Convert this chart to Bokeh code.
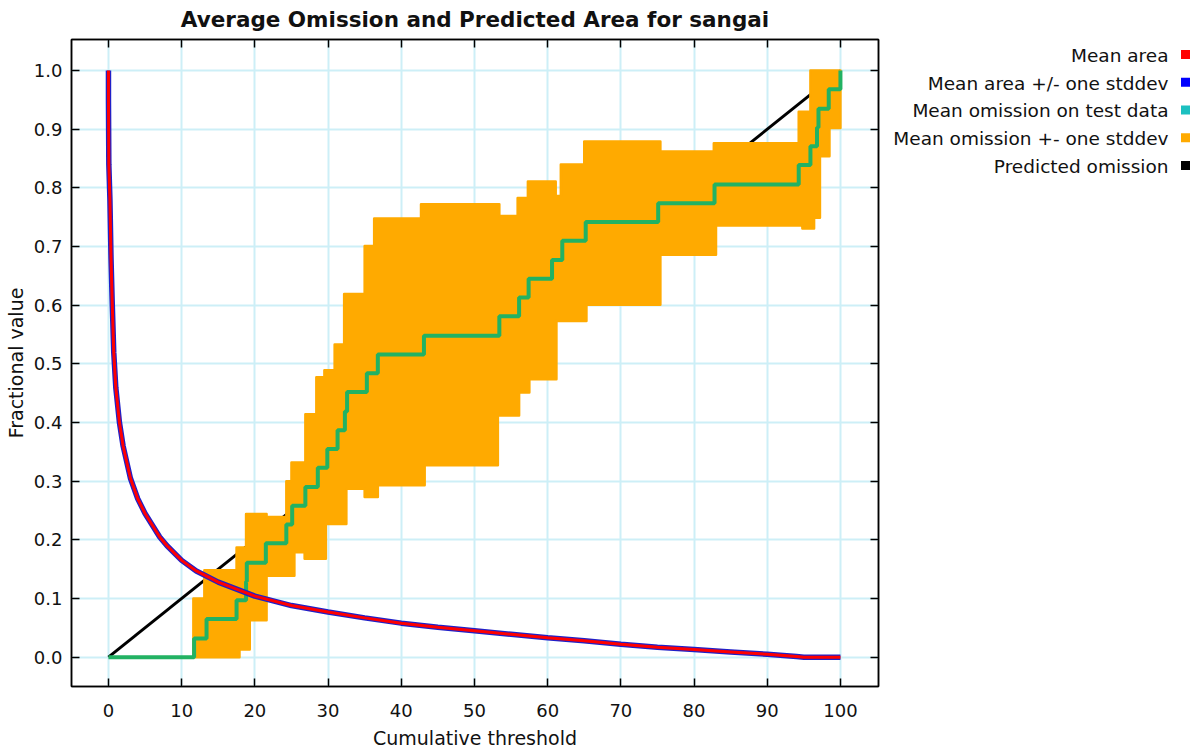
from bokeh.plotting import figure
from bokeh.layouts import row
from bokeh.models import (Range1d, LinearAxis, FixedTicker, PrintfTickFormatter, Title,
                          CustomLabelingPolicy)
from bokeh.embed import file_html
from bokeh.resources import INLINE
from bokeh.core.properties import value

# ---------------- data ----------------
title_text = "Average Omission and Predicted Area for sangai"
x_label = "Cumulative threshold"
y_label = "Fractional value"
x_ticks = [0, 10, 20, 30, 40, 50, 60, 70, 80, 90, 100]
y_ticks = [0.0, 0.1, 0.2, 0.3, 0.4, 0.5, 0.6, 0.7, 0.8, 0.9, 1.0]

# Mean area (fraction of area predicted present)
area_x = [0, 0.0, 0.05, 0.2, 0.35, 0.5, 0.72, 1.0, 1.5, 2, 3, 4, 5, 6, 7, 8, 10, 12, 15,
          20, 25, 30, 35, 40, 45, 50, 55, 60, 65, 70, 75, 80, 85, 90, 94, 95, 100]
area_y = [1.0, 0.95, 0.84, 0.78, 0.68, 0.61, 0.52, 0.46, 0.40, 0.36, 0.305, 0.27, 0.245,
          0.225, 0.205, 0.19, 0.165, 0.147, 0.128, 0.104, 0.088, 0.077, 0.067, 0.058,
          0.051, 0.045, 0.039, 0.033, 0.028, 0.022, 0.017, 0.013, 0.009, 0.005, 0.001, 0.0, 0.0]

# Mean omission on test data (step function)
om_x = [0, 11.7, 13.4, 17.5, 18.8, 18.9, 21.5, 24.3, 25.1, 26.9, 28.6, 29.9, 31.3, 32.3,
        32.6, 35.3, 36.8, 43.1, 53.4, 56.1, 57.4, 60.6, 62.0, 65.2, 75.1, 82.8, 94.3,
        95.9, 96.8, 97.0, 98.4, 100]
om_y = [0, 0.032, 0.065, 0.097, 0.129, 0.161, 0.194, 0.226, 0.258, 0.290, 0.323, 0.355,
        0.387, 0.419, 0.452, 0.484, 0.516, 0.548, 0.581, 0.613, 0.645, 0.677, 0.710,
        0.742, 0.774, 0.806, 0.839, 0.871, 0.903, 0.935, 0.968, 1.0]

# Mean omission +- one stddev (upper and lower step envelopes)
band_up_x = [11.6, 13.1, 17.5, 18.8, 21.6, 24.3, 25.0, 26.9, 28.4, 29.5, 30.9, 32.2, 35.0,
             36.3, 42.7, 53.4, 55.9, 57.3, 61.1, 61.8, 65.0, 75.4, 82.7, 94.3, 95.9, 100]
band_up_y = [0.100, 0.148, 0.187, 0.244, 0.239, 0.300, 0.332, 0.414, 0.477, 0.489, 0.533,
             0.619, 0.701, 0.748, 0.772, 0.752, 0.783, 0.811, 0.786, 0.840, 0.879, 0.862,
             0.876, 0.930, 1.000, 1.000]
band_lo_x = [11.6, 17.9, 19.3, 21.6, 25.4, 26.8, 29.7, 32.5, 35.0, 36.8, 43.2, 53.2, 56.1,
             57.5, 61.2, 65.3, 75.4, 83.0, 94.8, 96.4, 97.2, 98.5, 100]
band_lo_y = [0.000, 0.013, 0.063, 0.139, 0.179, 0.168, 0.227, 0.287, 0.273, 0.293, 0.327,
             0.412, 0.451, 0.474, 0.573, 0.601, 0.686, 0.736, 0.731, 0.749, 0.854, 0.902,
             0.902]

# Predicted omission
pred_x = [0, 100]
pred_y = [0, 1]

legend_labels = ["Mean area", "Mean area +/- one stddev", "Mean omission on test data",
                 "Mean omission +- one stddev", "Predicted omission"]
legend_colors = ["#FF0000", "#0000FF", "#1CC0C0", "#FFAA00", "#000000"]

# ---------------- styling ----------------
FONT = "DejaVu Sans"
RED = "#FF0000"
BLUE = "#2020C8"
GREEN = "#22B263"
ORANGE = "#FFAA00"
GRID = "#CDEFF7"

W, H = 1203, 752
FRAME_LEFT, FRAME_RIGHT, FRAME_TOP, FRAME_BOTTOM = 71, 878, 38, 686
MAIN_W = 885


def step_path(xs, ys):
    px, py = [], []
    for i in range(len(xs) - 1):
        px += [xs[i], xs[i + 1]]
        py += [ys[i], ys[i]]
    return px, py


p = figure(width=MAIN_W, height=H, x_range=Range1d(-5.05, 105.2), y_range=Range1d(-0.05, 1.053),
           min_border_left=FRAME_LEFT, min_border_right=MAIN_W - FRAME_RIGHT,
           min_border_top=FRAME_TOP, min_border_bottom=H - FRAME_BOTTOM,
           output_backend="svg", toolbar_location=None, title=None,
           background_fill_color="white", border_fill_color="white")
p.xaxis.visible = False
p.yaxis.visible = False

xt = FixedTicker(ticks=x_ticks, minor_ticks=[])
yt = FixedTicker(ticks=y_ticks, minor_ticks=[])


def mk_axis(ticker, show_labels, label=None):
    ax = LinearAxis(ticker=ticker)
    ax.major_tick_in = 8
    ax.major_tick_out = 0
    ax.major_tick_line_color = "black"
    ax.major_tick_line_width = 1.5
    ax.minor_tick_line_color = None
    ax.axis_line_color = "black"
    ax.axis_line_width = 1.5
    if show_labels:
        ax.major_label_text_font = FONT
        ax.major_label_text_font_size = "18px"
        ax.major_label_text_color = "#111111"
        ax.axis_label = label
        ax.axis_label_text_font = FONT
        ax.axis_label_text_font_size = "19px"
        ax.axis_label_text_font_style = "normal"
        ax.axis_label_text_color = "#111111"
    else:
        ax.major_label_policy = CustomLabelingPolicy(
            code="for (const i of indices) indices.unset(i)")
        ax.major_label_text_font_size = "1px"
        ax.major_label_standoff = 0
    return ax


bx = mk_axis(xt, True, x_label)
bx.major_label_standoff = 17
bx.axis_label_standoff = 7
ly = mk_axis(yt, True, y_label)
ly.major_label_standoff = 9
ly.axis_label_standoff = 4
ly.formatter = PrintfTickFormatter(format="%.1f")
p.add_layout(bx, "below")
p.add_layout(ly, "left")
p.add_layout(mk_axis(xt, False), "above")
p.add_layout(mk_axis(yt, False), "right")
p.add_layout(Title(text=title_text, align="center", text_font=FONT, text_font_size="21.5px",
                   text_font_style="bold", text_color="#111111", standoff=8), "above")

p.xgrid.ticker = xt
p.ygrid.ticker = yt
p.xgrid.grid_line_color = GRID
p.ygrid.grid_line_color = GRID
p.xgrid.grid_line_width = 2
p.ygrid.grid_line_width = 2
p.outline_line_color = "black"
p.outline_line_width = 1.5

# predicted omission
p.line(pred_x, pred_y, line_color="black", line_width=3)

# omission band
ux, uy = step_path(band_up_x, band_up_y)
lx, ly_ = step_path(band_lo_x, band_lo_y)
poly_x = ux + lx[::-1]
poly_y = uy + ly_[::-1]
p.patch(poly_x, poly_y, fill_color=ORANGE, line_color=ORANGE, line_width=2.5, line_join="round")

# mean omission
p.step(om_x, om_y, mode="after", line_color=GREEN, line_width=4)

# mean area +/- stddev and mean area
p.line(area_x, area_y, line_color=BLUE, line_width=5.5)
p.line(area_x, area_y, line_color=RED, line_width=3)

# ---------------- legend panel ----------------
# the legend figure's frame is aligned with the main frame (page y 38..686)
leg = figure(width=W - MAIN_W, height=H, x_range=Range1d(MAIN_W, W),
             y_range=Range1d(FRAME_BOTTOM, FRAME_TOP),
             output_backend="svg", toolbar_location=None, min_border=0,
             min_border_top=FRAME_TOP, min_border_bottom=H - FRAME_BOTTOM,
             outline_line_color=None)
leg.axis.visible = False
leg.grid.visible = False
row_y = [54 + 27.8 * i for i in range(len(legend_labels))]
leg.text(x=[1168] * len(legend_labels), y=row_y, text=legend_labels, text_align="right",
         text_baseline="middle", text_font=value(FONT), text_font_size="18.5px",
         text_color="#111111")
leg.rect(x=[1185] * len(legend_labels), y=[v - 1 for v in row_y], width=9, height=9,
         fill_color=legend_colors, line_color=None)

layout = row(p, leg)
open("out.html", "w").write(file_html(layout, INLINE))
